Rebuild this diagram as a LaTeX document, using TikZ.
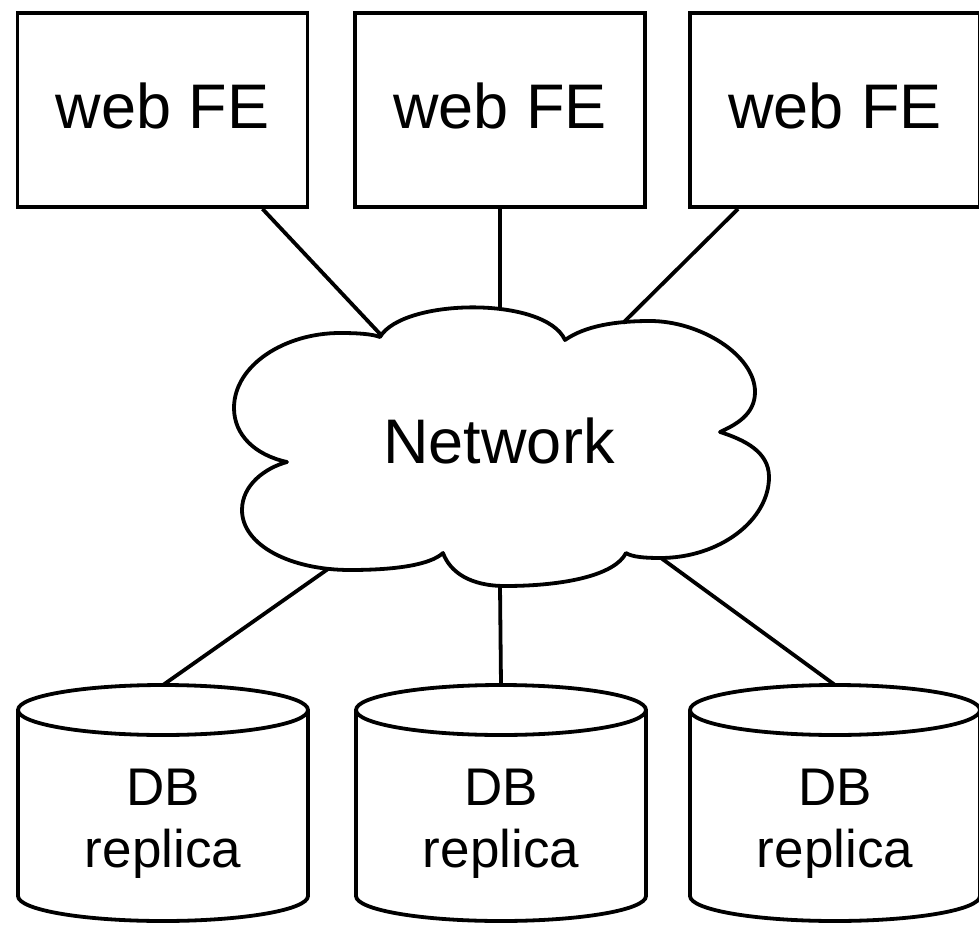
\documentclass[tikz,border=0pt]{standalone}
\usepackage{fontspec}
\setmainfont{Liberation Sans}
\begin{document}
\begin{tikzpicture}[x=0.5pt,y=-0.5pt,
  lw/.style={line width=1.9pt},
  febox/.style={draw, lw, minimum width=145pt, minimum height=97pt, inner sep=0pt, text depth=4.5pt, font=\fontsize{31.5}{36}\selectfont},
  dbtext/.style={align=center, inner sep=0pt, font=\fontsize{26.5}{31}\selectfont},
  nettext/.style={inner sep=0pt, font=\fontsize{31.5}{36}\selectfont},
  conn/.style={lw}]
\useasboundingbox (0,0) rectangle (979,925);
% web front ends
\node[febox] (fe1) at (162.5,110) {web FE};
\node[febox] (fe2) at (500,110) {web FE};
\node[febox] (fe3) at (835,110) {web FE};
% cloud
\draw[lw, line join=round] (380,337) .. controls (403,298) and (545,296) .. (565,340)
 .. controls (585,326) and (615,321) .. (650,321)
 .. controls (700,321) and (755,355) .. (755,392)
 .. controls (755,415) and (735,425) .. (720,432)
 .. controls (745,440) and (769,452) .. (769,477)
 .. controls (769,520) and (720,558) .. (660,558)
 .. controls (645,558) and (632,557) .. (626,553)
 .. controls (615,575) and (565,586) .. (505,586)
 .. controls (470,586) and (450,572) .. (443,553)
 .. controls (430,565) and (395,570) .. (350,570)
 .. controls (290,570) and (242,545) .. (242,510)
 .. controls (242,485) and (265,468) .. (287,462)
 .. controls (255,455) and (234,435) .. (234,408)
 .. controls (234,365) and (285,333) .. (340,333)
 .. controls (358,333) and (372,334) .. cycle;
\node[nettext] (net) at (499,441) {Network};
\coordinate (c1) at (381,335);
\coordinate (c2) at (500,309);
\coordinate (c3) at (623,323);
\coordinate (c4) at (328,569);
\coordinate (c5) at (500,586);
\coordinate (c6) at (661,558);
% DB cylinders
\foreach \i/\cx in {1/163, 2/501, 3/835} {
  \draw[lw, fill=white] (\cx-145,710) -- (\cx-145,896) arc[start angle=180, end angle=360, x radius=72.5pt, y radius=12.5pt] -- (\cx+145,710);
  \draw[lw] (\cx,710) ellipse [x radius=72.5pt, y radius=12.5pt];
  \coordinate (t\i) at (\cx,685);
  \node[dbtext] (db\i) at (\cx,824) {DB\\replica};
}
% connectors
\draw[conn] ([xshift=50pt]fe1.south) -- (c1);
\draw[conn] (fe2.south) -- (c2);
\draw[conn] ([xshift=-48.5pt]fe3.south) -- (c3);
\draw[conn] (c4) -- (t1);
\draw[conn] (c5) -- (t2);
\draw[conn] (c6) -- (t3);
\end{tikzpicture}
\end{document}
